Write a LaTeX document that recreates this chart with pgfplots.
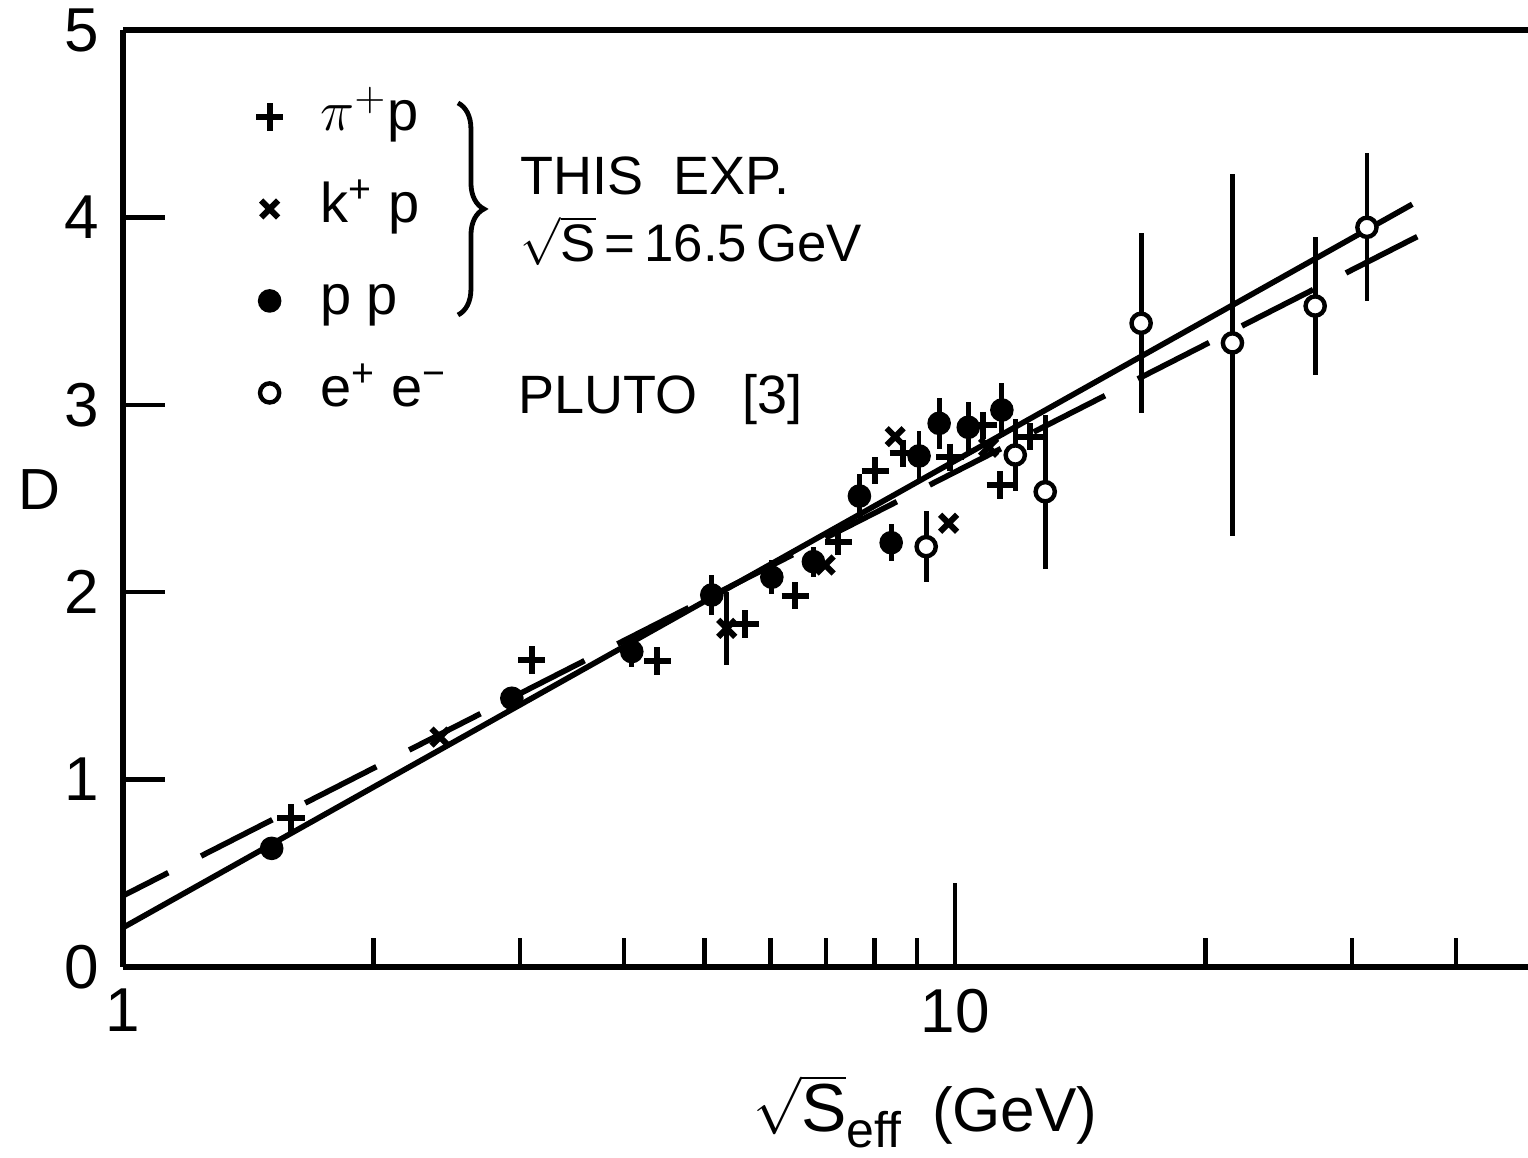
\documentclass[border=0pt]{standalone}
\usepackage{pgfplots}
\pgfplotsset{compat=1.18}
\usepackage{fontspec}
\setmainfont{Liberation Sans}
\usetikzlibrary{decorations.pathreplacing}

\begin{document}
\begin{tikzpicture}
\begin{axis}[
  name=ax,
  scale only axis,
  width=351.25pt, height=234.25pt,
  xmode=log, xmin=1, xmax=48.8, ymin=0, ymax=5,
  axis x line=box, axis y line=left,
  axis line style={-, line width=1.3pt},
  every outer y axis line/.append style={-},
  xtick={1,10}, xticklabels={1,10},
  minor xtick={2,3,4,5,6,7,8,9,20,30,40},
  ytick={0,1,2,3,4,5},
  xtick pos=bottom, ytick pos=left,
  tick align=inside,
  major tick length=10.5pt, minor tick length=7.25pt,
  tick style={line width=1.1pt, black},
  ticklabel style={font=\fontsize{15.5}{18}\selectfont},
  xticklabel style={yshift=-2pt},
  yticklabel style={xshift=-2.5pt},
  /pgf/number format/assume math mode=true,
  clip=false,
  error bars/error mark=none,
  error bars/error bar style={line width=1.2pt},
  legend style={at={(rel axis cs:0.0947,0.9435)}, anchor=north west, draw=none, fill=none,
    inner sep=0pt, outer sep=0pt, nodes={inner sep=1pt, text height=11pt, text depth=4pt},
    column sep=8.25pt, font=\fontsize{14}{16}\selectfont, row sep=6pt},
  legend cell align=left,
]
% fitted lines
\addplot[line width=1.4pt, forget plot] coordinates {(1,0.21) (35.43,4.07)};
\addplot[line width=1.4pt, dash pattern=on 20pt off 9.2pt, dash phase=7.3pt, forget plot] coordinates {(1,0.38) (36.02,3.90)};

% pi+ p
\addplot[only marks, mark=+, mark size=3.4pt, mark options={line width=1.5pt}] coordinates {
(1.592,0.795) (3.099,1.638) (4.387,1.633) (5.593,1.830) (6.424,1.981) (7.239,2.27)
(8.014,2.648) (8.66,2.74) (9.86,2.72) (10.8,2.89) (11.33,2.572) (12.31,2.83)};
\addlegendentry{$\pi^{+}$p}

% k+ p
\addplot[only marks, mark=x, mark size=3.0pt, mark options={line width=1.5pt},
  error bars/.cd, y dir=both, y explicit] coordinates {
(2.404,1.227) (5.316,1.807) +- (0,0.195) (6.98,2.145) (8.47,2.83) (9.82,2.368) (10.97,2.773)};
\addlegendentry{k\textsuperscript{+} p}

% p p
\addplot[only marks, mark=*, mark size=2.75pt, mark options={fill=black},
  error bars/.cd, y dir=both, y explicit] coordinates {
(1.509,0.633) +- (0,0.04) (2.933,1.434) +- (0,0.04) (4.087,1.683) +- (0,0.08)
(5.10,1.985) +- (0,0.107) (6.022,2.08) +- (0,0.09) (6.756,2.163) +- (0,0.08)
(7.674,2.513) +- (0,0.115) (8.378,2.264) +- (0,0.1) (9.05,2.727) +- (0,0.135)
(9.567,2.901) +- (0,0.135) (10.37,2.88) +- (0,0.135) (11.38,2.972) +- (0,0.145)};
\addlegendentry{p p}

% e+ e- PLUTO
\addplot[only marks, mark=*, mark size=2.4pt, mark options={fill=white, draw=black, line width=1.1pt},
  error bars/.cd, y dir=both, y explicit] coordinates {
(9.23,2.243) +- (0,0.19) (11.81,2.732) +- (0,0.19) (12.83,2.536) +- (0,0.41)
(16.73,3.435) +- (0,0.48) (21.54,3.33) += (0,0.9) -= (0,1.03)
(27.08,3.527) +- (0,0.37) (31.25,3.947) +- (0,0.395)};
\addlegendentry{e\textsuperscript{+} e\textsuperscript{−}}

% long tick at 10
\draw[line width=1.1pt] (axis cs:10,0) -- ++(0pt,21pt);

% brace and annotations
\draw[line width=1.2pt, decorate, decoration={brace, amplitude=6.5pt}]
  (rel axis cs:0.2384,0.9221) -- (rel axis cs:0.2384,0.6958);
\node[anchor=base west, font=\fontsize{13.5}{16}\selectfont, inner sep=0pt] at (rel axis cs:0.2826,0.8239) {THIS\ \ EXP.};
\node[anchor=base west, font=\fontsize{13.2}{16}\selectfont, inner sep=0pt] at (rel axis cs:0.2826,0.7524) {\smash{$\sqrt{\mbox{S}}$}\,=\,16.5\,GeV};
\node[anchor=base west, font=\fontsize{13.5}{16}\selectfont, inner sep=0pt] at (rel axis cs:0.2811,0.5912) {PLUTO\ \ \ [3]};

% axis labels
\node[font=\fontsize{14.5}{16}\selectfont] at (rel axis cs:-0.0598,0.509) {D};
\node[anchor=base, font=\fontsize{15.5}{18}\selectfont] at (rel axis cs:0.571,-0.1755)
  {$\sqrt{\mbox{\fontsize{17}{18}\selectfont S}}$\raisebox{-4pt}{\fontsize{12.5}{14}\selectfont eff}\hspace{0.5em}(GeV)};
\end{axis}
\pgfresetboundingbox
\path ([shift={(-30.75pt,-47.75pt)}]ax.south west) rectangle ([shift={(0pt,7.5pt)}]ax.north east);
\end{tikzpicture}
\end{document}
